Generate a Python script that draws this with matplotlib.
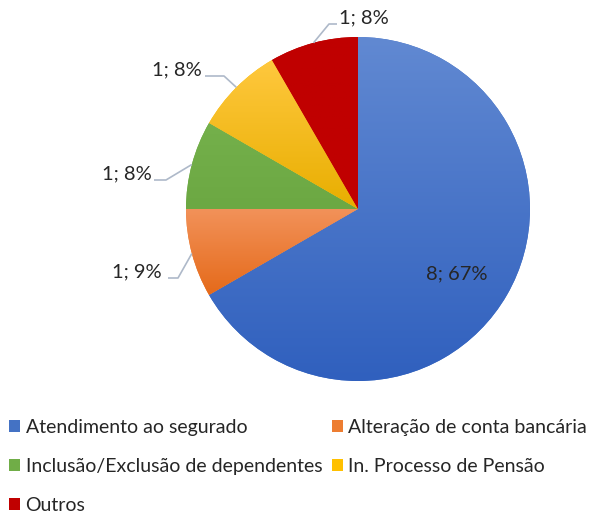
import matplotlib.pyplot as plt
import numpy as np
from matplotlib.colors import to_rgb
from matplotlib.patches import Patch

categories = ["Atendimento ao segurado", "Alteração de conta bancária",
              "Inclusão/Exclusão de dependentes", "In. Processo de Pensão", "Outros"]
values = [8, 1, 1, 1, 1]
pct_labels = ["67%", "9%", "8%", "8%", "8%"]

base_colors = ["#4472C4", "#ED7D31", "#70AD47", "#FFC000", "#C00000"]
top_colors = ["#6189D2", "#F2925A", "#74B04B", "#FFC83E", "#C00000"]
bottom_colors = ["#3060BE", "#E56A1A", "#6CA843", "#E8AE00", "#C00000"]

plt.rcParams['font.family'] = ['Lato', 'DejaVu Sans']

W, H = 591, 513
fig = plt.figure(figsize=(W / 100, H / 100), dpi=100)
ax = fig.add_axes([0, 0, 1, 1])
cx, cy, r = 358, H - 209, 172

wedges, _ = ax.pie(values, center=(cx, cy), radius=r, startangle=90,
                   counterclock=False, colors=base_colors, frame=True,
                   wedgeprops=dict(linewidth=0))

# vertical gradients clipped to each wedge
for w, ct, cb in zip(wedges, top_colors, bottom_colors):
    bb = w.get_path().get_extents()
    t = np.linspace(0, 1, 200)[:, None, None]
    grad = (1 - t) * np.array(to_rgb(ct)) + t * np.array(to_rgb(cb))
    im = ax.imshow(grad, extent=(bb.x0, bb.x1, bb.y0, bb.y1), origin='upper',
                   aspect='auto', zorder=w.get_zorder() + 0.1, interpolation='bilinear')
    im.set_clip_path(w)

ax.set_xlim(0, W)
ax.set_ylim(0, H)
ax.set_aspect('equal')
ax.axis('off')

# data labels
total = sum(values)
angles = []
start = 90.0
for v in values:
    span = 360.0 * v / total
    angles.append(start - span / 2)
    start -= span

FS = 14.5
ax.text(457, H - 274, f"{values[0]}; {pct_labels[0]}", ha='center', va='center',
        fontsize=FS, color='#262626', zorder=5)

# outside labels: (text center x, text center y, elbow x, line end x)
label_layout = [None, (137, 272, 178, 168), (127, 174, 166, 154),
                (177, 70, 224, 205), (364, 18, 329, 337)]
line_color = '#AEB9C9'
for i in range(1, len(values)):
    tx, ty, ex, hx = label_layout[i]
    a = np.deg2rad(angles[i])
    px, py = cx + r * np.cos(a), cy + r * np.sin(a)
    ly = ty + 6
    ax.plot([px, ex, hx], [py, H - ly, H - ly],
            color=line_color, lw=1.2, zorder=4, solid_capstyle='butt')
    ax.text(tx, H - ty, f"{values[i]}; {pct_labels[i]}",
            ha='center', va='center', fontsize=FS, color='#262626', zorder=5)

handles = [Patch(facecolor=c, edgecolor='none') for c in base_colors]
order = [0, 2, 4, 1, 3]
fig.legend([handles[i] for i in order], [categories[i] for i in order],
           loc='upper left', bbox_to_anchor=(9 / W, 1 - 419 / H), ncol=2,
           frameon=False, fontsize=14, handlelength=0.55, handleheight=0.55,
           handletextpad=0.3, columnspacing=0.5, labelspacing=1.12,
           borderaxespad=0, borderpad=0, labelcolor='#262626')

fig.savefig('out.png', dpi=100)
